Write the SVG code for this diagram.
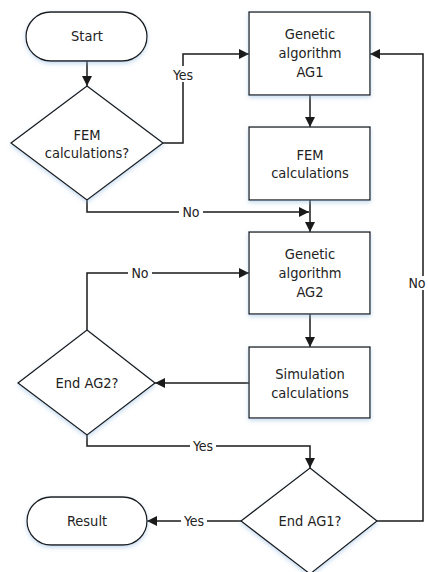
<svg xmlns="http://www.w3.org/2000/svg" width="428" height="572" viewBox="0 0 428 572">
<style>
.s{fill:#fff;stroke:#1a1a1a;stroke-width:1.3;filter:url(#sh)}
.t{font-family:"DejaVu Sans Condensed","DejaVu Sans",sans-serif;font-size:14.5px;fill:#222;text-anchor:middle}
.c{fill:none;stroke:#1a1a1a;stroke-width:1.5}
.lb{font-family:"DejaVu Sans Condensed","DejaVu Sans",sans-serif;font-size:14px;fill:#222;text-anchor:middle}
</style>
<defs>
<filter id="sh" x="-20%" y="-20%" width="140%" height="150%">
<feDropShadow dx="0" dy="2" stdDeviation="2" flood-color="#8fb8e0" flood-opacity="0.5"/>
</filter>
<marker id="a" viewBox="0 0 10 10" refX="10" refY="5" markerWidth="10" markerHeight="10" markerUnits="userSpaceOnUse" orient="auto">
<path d="M0,0 L10,5 L0,10 Z" fill="#1a1a1a"/>
</marker>
</defs>
<g id="connectors">
<path class="c" d="M87,61 V86" marker-end="url(#a)"/>
<path class="c" d="M163,143 H183 V54 H249" marker-end="url(#a)"/>
<path class="c" d="M310,95 V127" marker-end="url(#a)"/>
<path class="c" d="M87,200 V212 H309" marker-end="url(#a)"/>
<path class="c" d="M310,200 V232" marker-end="url(#a)"/>
<path class="c" d="M87,330 V273 H249" marker-end="url(#a)"/>
<path class="c" d="M310,314 V347" marker-end="url(#a)"/>
<path class="c" d="M249,383 H155" marker-end="url(#a)"/>
<path class="c" d="M87,435 V446 H310 V468" marker-end="url(#a)"/>
<path class="c" d="M241,521 H147" marker-end="url(#a)"/>
<path class="c" d="M377,521 H423 V54 H370" marker-end="url(#a)"/>
<rect x="170" y="66" width="26" height="16" fill="#fff"/>
<text class="lb" x="183" y="80">Yes</text>
<rect x="179" y="205" width="24" height="14" fill="#fff"/>
<text class="lb" x="191" y="217">No</text>
<rect x="128" y="266" width="24" height="14" fill="#fff"/>
<text class="lb" x="140" y="278">No</text>
<rect x="190" y="439" width="26" height="14" fill="#fff"/>
<text class="lb" x="203" y="451">Yes</text>
<rect x="181" y="514" width="26" height="14" fill="#fff"/>
<text class="lb" x="194" y="526">Yes</text>
<rect x="406" y="276" width="22" height="14" fill="#fff"/>
<text class="lb" x="417" y="288">No</text>
</g>
<g id="start">
<rect class="s" x="26" y="12" width="121" height="49" rx="24.5"/>
<text class="t" x="87" y="41">Start</text>
</g>
<g id="fem-decision">
<polygon class="s" points="87,86 163,143 87,200 11,143"/>
<text class="t" x="87" y="140">FEM</text>
<text class="t" x="87" y="158">calculations?</text>
</g>
<g id="ag1">
<rect class="s" x="249" y="12" width="121" height="83"/>
<text class="t" x="310" y="39">Genetic</text>
<text class="t" x="310" y="58">algorithm</text>
<text class="t" x="310" y="77">AG1</text>
</g>
<g id="fem-calc">
<rect class="s" x="249" y="127" width="121" height="73"/>
<text class="t" x="310" y="160">FEM</text>
<text class="t" x="310" y="178">calculations</text>
</g>
<g id="ag2">
<rect class="s" x="249" y="232" width="121" height="82"/>
<text class="t" x="310" y="259">Genetic</text>
<text class="t" x="310" y="278">algorithm</text>
<text class="t" x="310" y="297">AG2</text>
</g>
<g id="sim-calc">
<rect class="s" x="249" y="347" width="121" height="71"/>
<text class="t" x="310" y="379">Simulation</text>
<text class="t" x="310" y="398">calculations</text>
</g>
<g id="end-ag2">
<polygon class="s" points="87,330 155,383 87,435 18,383"/>
<text class="t" x="87" y="388">End AG2?</text>
</g>
<g id="end-ag1">
<polygon class="s" points="310,468 377,521 310,574 241,521"/>
<text class="t" x="310" y="526">End AG1?</text>
</g>
<g id="result">
<rect class="s" x="27" y="497" width="120" height="48" rx="24"/>
<text class="t" x="87" y="526">Result</text>
</g>
</svg>
